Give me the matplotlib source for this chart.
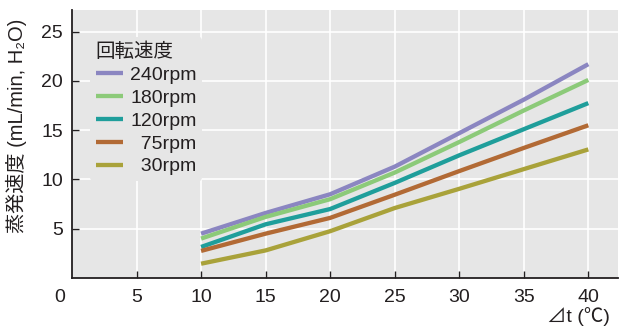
import matplotlib
matplotlib.use("Agg")
import matplotlib.pyplot as plt

plt.rcParams['font.family'] = ['Liberation Sans', 'Noto Sans CJK JP', 'DejaVu Sans']

# Temperature difference (°C)
delta_t = [10, 15, 20, 25, 30, 35, 40]

# Evaporation rate (mL/min, H2O) per rotation speed
rpm_240 = [4.5, 6.6, 8.5, 11.3, 14.7, 18.1, 21.7]
rpm_180 = [4.0, 6.2, 8.0, 10.7, 13.8, 17.0, 20.1]
rpm_120 = [3.15, 5.45, 7.0, 9.65, 12.45, 15.1, 17.75]
rpm_75 = [2.75, 4.5, 6.1, 8.45, 10.85, 13.2, 15.5]
rpm_30 = [1.45, 2.8, 4.75, 7.1, 9.05, 11.05, 13.05]

labels = ["240rpm", "180rpm", "120rpm", "  75rpm", "  30rpm"]
colors = ["#8b86c1", "#8cca79", "#1f9e9b", "#b26a35", "#a9a23a"]

x_ticks = [5, 10, 15, 20, 25, 30, 35, 40]
y_ticks = [5, 10, 15, 20, 25]

ink = "#231f20"
bg = "#e6e6e6"
fs = 14

fig = plt.figure(figsize=(6.28, 3.33), dpi=100)
ax = fig.add_axes([72 / 628, 55 / 333, 546 / 628, 268 / 333])
ax.set_facecolor(bg)

for series, lab, col in zip([rpm_240, rpm_180, rpm_120, rpm_75, rpm_30], labels, colors):
    ax.plot(delta_t, series, color=col, lw=3.1, label=lab, solid_capstyle='butt',
            solid_joinstyle='miter')

ax.set_xlim(0, 42.3)
ax.set_ylim(0, 27.2)
ax.set_xticks(x_ticks)
ax.set_yticks(y_ticks)
ax.grid(True, color='white', lw=1.2)
ax.set_axisbelow(True)

for side in ['top', 'right']:
    ax.spines[side].set_visible(False)
for side in ['left', 'bottom']:
    ax.spines[side].set_color(ink)
    ax.spines[side].set_linewidth(1.3)

ax.tick_params(direction='in', length=5, width=1, colors=ink, labelsize=fs, labelcolor=ink)
ax.tick_params(axis='x', pad=8)
ax.tick_params(axis='y', pad=6.5)

# shared origin label
ax.annotate("0", xy=(0, 0), xycoords='data', xytext=(-9, -14), textcoords='offset points',
            ha='center', va='center', fontsize=fs, color=ink, annotation_clip=False)

ax.set_ylabel("蒸発速度 (mL/min, H₂O)", fontsize=14.5, color=ink)
ax.yaxis.set_label_coords(-0.083, 0.567)

ax.text(1.0 - 8 / 546, -39 / 268, "⊿t (℃)", transform=ax.transAxes, ha='right', va='center',
        fontsize=fs, color=ink)

leg = ax.legend(title="回転速度", loc='upper left', bbox_to_anchor=(0.033, 0.9),
                borderaxespad=0, frameon=True, fontsize=fs, title_fontsize=fs,
                handlelength=1.4, handletextpad=0.36, labelspacing=0.27,
                borderpad=0.3, alignment='left')
leg.get_frame().set_facecolor(bg)
leg.get_frame().set_edgecolor('none')
leg.get_frame().set_alpha(1)
for t in leg.get_texts():
    t.set_color(ink)
leg.get_title().set_color(ink)

fig.savefig("out.png", dpi=100)
